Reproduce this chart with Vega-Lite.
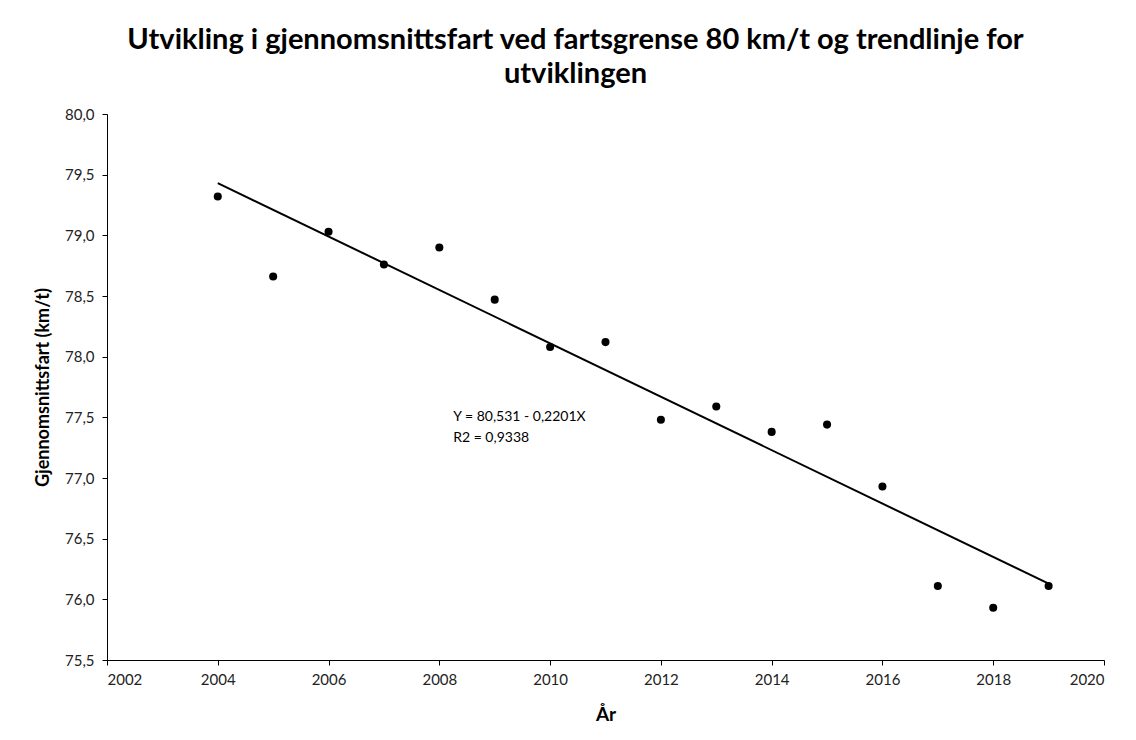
{
  "$schema": "https://vega.github.io/schema/vega-lite/v6.json",
  "width": 997,
  "height": 546,
  "autosize": {"type": "none"},
  "padding": {"left": 107, "top": 114, "right": 32, "bottom": 80},
  "background": "white",
  "title": {
    "text": ["Utvikling i gjennomsnittsfart ved fartsgrense 80 km/t og trendlinje for", "utviklingen"],
    "font": "Lato",
    "fontSize": 29,
    "fontWeight": "bold",
    "color": "black",
    "anchor": "middle",
    "dx": -30,
    "offset": 18,
    "lineHeight": 34
  },
  "datasets": {
    "obs": [
      {"year": 2004, "speed": 79.32},
      {"year": 2005, "speed": 78.66},
      {"year": 2006, "speed": 79.03},
      {"year": 2007, "speed": 78.76},
      {"year": 2008, "speed": 78.90},
      {"year": 2009, "speed": 78.47},
      {"year": 2010, "speed": 78.08},
      {"year": 2011, "speed": 78.12},
      {"year": 2012, "speed": 77.48},
      {"year": 2013, "speed": 77.59},
      {"year": 2014, "speed": 77.38},
      {"year": 2015, "speed": 77.44},
      {"year": 2016, "speed": 76.93},
      {"year": 2017, "speed": 76.11},
      {"year": 2018, "speed": 75.93},
      {"year": 2019, "speed": 76.11}
    ],
    "trend": [
      {"year": 2004, "speed": 79.4305},
      {"year": 2019, "speed": 76.129}
    ],
    "note": [
      {"year": 2008.25, "speed": 77.5, "label": ["Y = 80,531  - 0,2201X", "R2 = 0,9338"]}
    ]
  },
  "config": {
    "view": {"stroke": null},
    "axis": {
      "grid": false,
      "domainColor": "black",
      "tickColor": "black",
      "domainWidth": 1,
      "tickSize": 5,
      "labelFont": "Lato",
      "labelFontSize": 15,
      "labelColor": "#222222",
      "titleFont": "Lato",
      "titleFontWeight": "bold",
      "titleColor": "black"
    }
  },
  "layer": [
    {
      "data": {"name": "trend"},
      "mark": {"type": "line", "color": "black", "strokeWidth": 2},
      "encoding": {
        "x": {
          "field": "year", "type": "quantitative",
          "scale": {"domain": [2002, 2020], "nice": false, "zero": false},
          "axis": {"title": "År", "titleFontSize": 19, "titlePadding": 18, "values": [2002, 2004, 2006, 2008, 2010, 2012, 2014, 2016, 2018, 2020], "format": "d", "labelPadding": 7}
        },
        "y": {
          "field": "speed", "type": "quantitative",
          "scale": {"domain": [75.5, 80], "nice": false, "zero": false},
          "axis": {"title": "Gjennomsnittsfart (km/t)", "titleFontSize": 18, "titlePadding": 12, "values": [75.5, 76, 76.5, 77, 77.5, 78, 78.5, 79, 79.5, 80], "labelExpr": "replace(format(datum.value, '.1f'), '.', ',')", "labelPadding": 8}
        }
      }
    },
    {
      "data": {"name": "obs"},
      "mark": {"type": "point", "filled": true, "color": "black", "size": 65, "opacity": 1},
      "encoding": {
        "x": {"field": "year", "type": "quantitative"},
        "y": {"field": "speed", "type": "quantitative"}
      }
    },
    {
      "data": {"name": "note"},
      "mark": {"type": "text", "align": "left", "baseline": "middle", "font": "Lato", "fontSize": 14, "lineHeight": 21, "color": "black"},
      "encoding": {
        "x": {"field": "year", "type": "quantitative"},
        "y": {"field": "speed", "type": "quantitative"},
        "text": {"field": "label"}
      }
    }
  ]
}
